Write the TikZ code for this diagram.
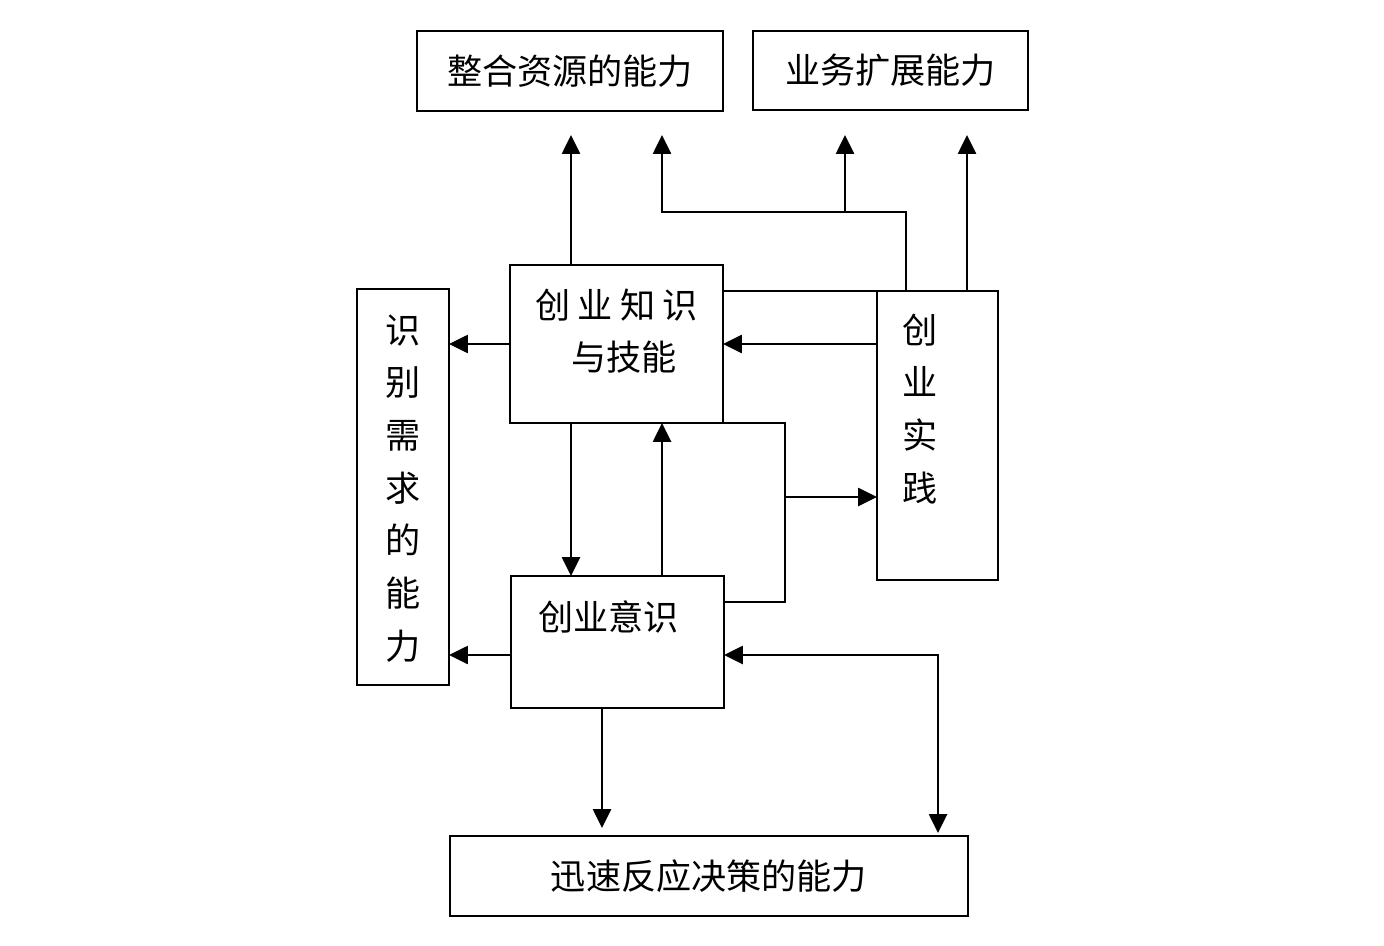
\documentclass[tikz,border=0pt]{standalone}
\usepackage{fontspec}
\setmainfont{Noto Sans CJK SC}
\usetikzlibrary{arrows.meta}

\begin{document}
\begin{tikzpicture}[x=0.02cm, y=-0.02cm,
  box/.style={draw, line width=1.5pt, inner sep=0pt, outer sep=0pt, font=\fontsize{20}{30}\selectfont, align=center},
  link/.style={line width=1.5pt},
  arr/.style={link, -{Triangle[length=0.38cm,width=0.36cm]}}
]
  \useasboundingbox (0,0) rectangle (1384,946);
  % boxes
  \node[box, minimum width=6.12cm, minimum height=1.6cm]  (zhenghe) at (570,71)    {整合资源的能力};
  \node[box, minimum width=5.5cm, minimum height=1.58cm]  (yewu)    at (890.5,70.5) {业务扩展能力};
  \node[box, minimum width=4.26cm, text width=3.8cm, text height=1.06cm, text depth=2.1cm] (zhishi) at (616.5,344)
    {创\hspace{4pt}业\hspace{4pt}知\hspace{4pt}识\\\hspace*{0.3cm}与技能};
  \node[box, minimum width=1.84cm, text width=1.2cm, text height=1.08cm, text depth=6.84cm] (shibie) at (403,487)
    {识\\别\\需\\求\\的\\能\\力};
  \node[box, minimum width=2.42cm, text width=1.4cm, align=left, text height=1.04cm, text depth=4.74cm] (shijian) at (937.5,435.5)
    {创\\业\\实\\践};
  \node[box, minimum width=4.26cm, text width=3.18cm, align=left, text height=1.08cm, text depth=1.56cm] (yishi) at (617.5,642)
    {创业意识};
  \node[box, minimum width=10.36cm, minimum height=1.6cm] (xunsu) at (709,876) {迅速反应决策的能力};

  % free ends and bends
  \coordinate (t1) at (571,135);
  \coordinate (t2) at (662,135);
  \coordinate (t3) at (845,135);
  \coordinate (t4) at (967,135);
  \coordinate (j1) at (906,212);
  \coordinate (j2) at (785,497);
  \coordinate (j3) at (785,602);
  \coordinate (j4) at (938,655);

  % connectors
  \draw[arr] (zhishi.north -| t1) -- (t1);
  \draw[arr] (shijian.north -| j1) -- (j1) -| (t2);
  \draw[arr] (j1 -| t3) -- (t3);
  \draw[arr] (shijian.north -| t4) -- (t4);
  \draw[link] (shijian.north west -| zhishi.east) -- (shijian.north west);
  \draw[arr] (shijian.west |- zhishi.east) -- (zhishi.east);
  \draw[arr] (zhishi.west) -- (shibie.east |- zhishi.west);
  \draw[arr] (zhishi.south -| t1) -- (yishi.north -| t1);
  \draw[arr] (yishi.north -| t2) -- (zhishi.south -| t2);
  \draw[link] (zhishi.south east) -| (j3) -- (j3 -| yishi.east);
  \draw[arr] (j2) -- (j2 -| shijian.west);
  \draw[arr] (yishi.west |- j4) -- (shibie.east |- j4);
  \draw[arr, shorten >=0.16cm] (yishi.south -| 602,0) -- (xunsu.north -| 602,0);
  \draw[link, {Triangle[length=0.38cm,width=0.36cm]}-{Triangle[length=0.38cm,width=0.36cm]}, shorten >=0.06cm]
    (yishi.east |- j4) -| (xunsu.north -| j4);
\end{tikzpicture}
\end{document}
